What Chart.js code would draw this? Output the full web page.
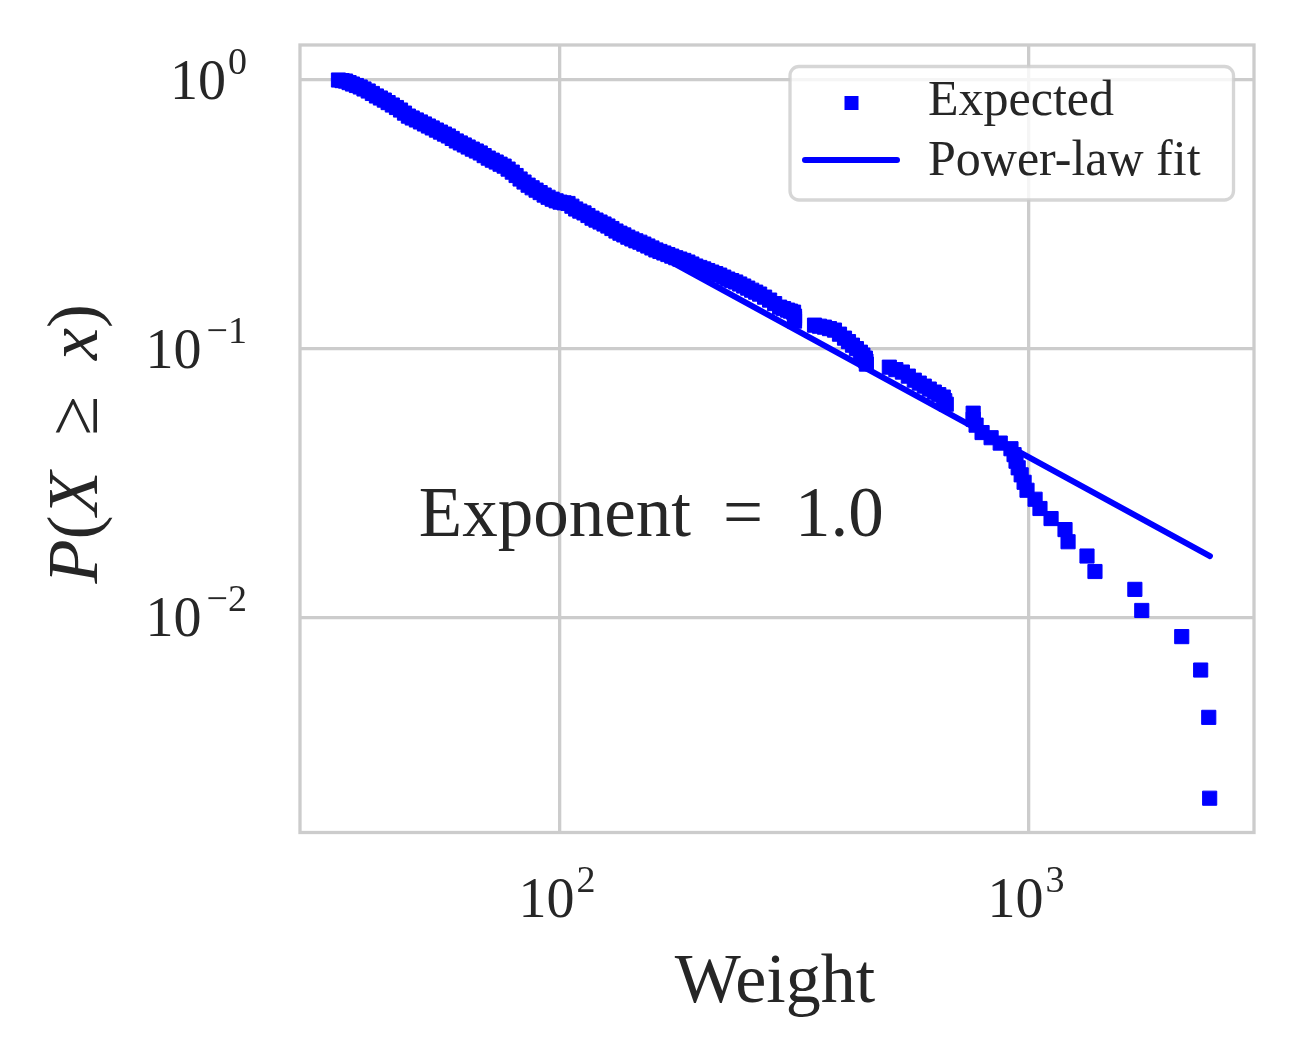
<!DOCTYPE html>
<html>
<head>
<meta charset="utf-8">
<title>Weight CCDF</title>
<script src="https://cdn.jsdelivr.net/npm/chart.js@4.4.1/dist/chart.umd.min.js"></script>
<style>
  html, body { margin: 0; padding: 0; background: #fff; }
  canvas { display: block; }
</style>
</head>
<body>
<canvas id="ccdfChart" width="1299" height="1058"></canvas>
<script>
const weights = [
  33.7, 34.3, 34.9, 35.5, 36.1, 36.8, 37.5, 38.2, 39.0, 39.8,
  40.6, 41.4, 42.2, 43.0, 43.9, 44.8, 45.7, 46.6, 47.5, 48.4,
  49.4, 50.4, 51.4, 52.4, 53.4, 54.5, 55.6, 56.7, 57.8, 58.9,
  60.1, 61.3, 62.5, 63.7, 65.0, 66.3, 67.6, 68.9, 70.3, 71.7,
  73.1, 74.5, 76.0, 77.5, 79.1, 80.6, 82.2, 83.8, 85.5, 87.2,
  88.9, 90.7, 92.5, 94.3, 96.2, 98.1, 100, 102, 104, 106,
  108, 110.2, 112.5, 114.7, 117, 119.3, 121.7, 124.1, 126.5, 129,
  131.6, 134.2, 136.8, 139.5, 142.3, 145.1, 148, 150.9, 153.9, 157,
  160.1, 163.3, 166.5, 169.8, 173.1, 176.5, 180, 183.6, 187.3, 191,
  194.7, 198.6, 202.5, 206.5, 210.6, 214.8, 219, 223.4, 227.8, 232.3,
  236.9, 241.6, 246.4, 251.3, 256.2, 261.3, 266.4, 273, 279.8, 286.8,
  293.9, 299.7, 305.6, 310.1, 314.7, 316.2, 316.2, 316.2,
  348.8, 357.4, 366.3, 375.4, 384.7, 394.3, 404.1, 412.1, 420.2, 428.5,
  436.9, 442.3, 447.7, 449, 449.9,
  503.6, 520, 536.9, 552.8, 569.2, 583.3, 597.8, 612.7, 628, 642, 656.3, 661, 666,
  760, 760, 771, 794, 830, 868, 915, 929, 938, 948,
  962, 976, 990, 1030, 1055, 1114, 1193, 1211, 1329, 1382,
  1681, 1739, 2116, 2322, 2416, 2427
];
const probs = [
  1.000, 0.995, 0.991, 0.978, 0.966, 0.954, 0.942, 0.926, 0.910, 0.891,
  0.872, 0.857, 0.842, 0.824, 0.807, 0.790, 0.773, 0.753, 0.734, 0.722,
  0.710, 0.698, 0.686, 0.674, 0.663, 0.651, 0.640, 0.629, 0.619, 0.606,
  0.593, 0.583, 0.573, 0.563, 0.553, 0.544, 0.535, 0.523, 0.512, 0.503,
  0.495, 0.486, 0.478, 0.466, 0.454, 0.441, 0.428, 0.417, 0.406, 0.397,
  0.389, 0.381, 0.373, 0.366, 0.360, 0.355, 0.351, 0.349, 0.347, 0.339,
  0.331, 0.325, 0.320, 0.313, 0.306, 0.301, 0.296, 0.291, 0.286, 0.280,
  0.274, 0.269, 0.265, 0.260, 0.256, 0.252, 0.249, 0.245, 0.241, 0.237,
  0.233, 0.230, 0.227, 0.224, 0.221, 0.218, 0.2155, 0.213, 0.210, 0.2065,
  0.203, 0.2005, 0.198, 0.1953, 0.1927, 0.1902, 0.1878, 0.1846, 0.1815, 0.1792,
  0.177, 0.174, 0.171, 0.168, 0.165, 0.1623, 0.1596, 0.1555, 0.1516, 0.1471,
  0.1427, 0.1409, 0.1391, 0.1379, 0.1367, 0.1321, 0.1294, 0.1266,
  0.1223, 0.1212, 0.1202, 0.1187, 0.1172, 0.1132, 0.1094, 0.1062, 0.1030, 0.1000,
  0.0970, 0.0946, 0.0922, 0.0899, 0.0876,
  0.0853, 0.0835, 0.0818, 0.0790, 0.0763, 0.0744, 0.0725, 0.0707, 0.0689, 0.0674, 0.0660, 0.0640, 0.0621,
  0.0575, 0.0546, 0.0519, 0.0487, 0.0466, 0.0445, 0.0424, 0.0403, 0.0381, 0.0360,
  0.0339, 0.0318, 0.0297, 0.0275, 0.0254, 0.0233, 0.0212, 0.0191, 0.0169, 0.0148,
  0.0127, 0.0106, 0.00847, 0.00636, 0.00424, 0.00212
];

// Power-law fit, a straight line in log-log between its two ends
const fitWeights = [33.7, 2430];
const fitProbs = [1.0, 0.0169];
const fitExponent = 1.0;

// Annotation anchor (data coords)
const notePos = [50, 0.02];

// Axes
const xRange = [27.9, 3017];
const yRange = [0.00158, 1.35];
const xTicks = [100, 1000];
const xTickLabels = [['10', '2'], ['10', '3']];
const yTicks = [0.01, 0.1, 1];
const yTickLabels = [['10', '\u22122'], ['10', '\u22121'], ['10', '0']];

const serif = '"Liberation Serif", "DejaVu Serif", serif';
const ink = '#262626';
const blue = '#0000ff';

// "10" with a raised exponent
function powerLabel(ctx, base, exp, x, baseline, align) {
  ctx.font = '56px ' + serif;
  const bw = ctx.measureText(base).width;
  ctx.font = '38px ' + serif;
  const ew = ctx.measureText(exp).width;
  const gap = exp.charAt(0) === '\u2212' ? 5 : 2;
  const total = bw + gap + ew;
  let left = x;
  if (align === 'right') left = x - total;
  if (align === 'center') left = x - total / 2;
  ctx.font = '56px ' + serif;
  ctx.fillText(base, left, baseline);
  ctx.font = '38px ' + serif;
  ctx.fillText(exp, left + bw + gap, baseline - 25);
}

// text made of runs with different styles, centred on the origin
function drawRuns(ctx, runs, size) {
  let total = 0;
  runs.forEach(r => {
    ctx.font = (r.italic ? 'italic ' : '') + size + 'px ' + serif;
    r.w = ctx.measureText(r.t).width;
    total += r.w + (r.pad || 0) * size * 2;
  });
  let x = -total / 2;
  runs.forEach(r => {
    ctx.font = (r.italic ? 'italic ' : '') + size + 'px ' + serif;
    x += (r.pad || 0) * size;
    ctx.fillText(r.t, x, 0);
    x += r.w + (r.pad || 0) * size;
  });
  return total;
}

const decorations = {
  id: 'decorations',
  afterDatasetsDraw(chart) {
    const { ctx, chartArea: a } = chart;
    ctx.save();
    ctx.strokeStyle = '#cccccc';
    ctx.lineWidth = 3.3;
    ctx.strokeRect(a.left, a.top, a.right - a.left, a.bottom - a.top);
    ctx.restore();
  },
  afterDraw(chart) {
    const { ctx, chartArea: a, scales } = chart;
    ctx.save();
    ctx.fillStyle = ink;
    ctx.textAlign = 'left';
    ctx.textBaseline = 'alphabetic';

    // tick labels
    yTicks.forEach((v, i) => {
      const y = scales.y.getPixelForValue(v);
      powerLabel(ctx, yTickLabels[i][0], yTickLabels[i][1], a.left - 53, y + 19, 'right');
    });
    xTicks.forEach((v, i) => {
      const x = scales.x.getPixelForValue(v);
      powerLabel(ctx, xTickLabels[i][0], xTickLabels[i][1], x - 3, a.bottom + 84.5, 'center');
    });

    // x title
    ctx.font = '70px ' + serif;
    ctx.textAlign = 'center';
    ctx.fillText('Weight', (a.left + a.right) / 2 - 2, a.bottom + 169);
    ctx.textAlign = 'left';

    // y title, rotated
    ctx.save();
    ctx.translate(97, (a.top + a.bottom) / 2 + 5);
    ctx.rotate(-Math.PI / 2);
    drawRuns(ctx, [
      { t: 'P', italic: true },
      { t: '(' },
      { t: 'X', italic: true },
      { t: '\u2265', pad: 0.5 },
      { t: 'x', italic: true },
      { t: ')' }
    ], 72);
    ctx.restore();

    // exponent annotation, left-aligned at its data anchor
    ctx.save();
    ctx.translate(scales.x.getPixelForValue(notePos[0]), scales.y.getPixelForValue(notePos[1]));
    const note = [{ t: 'Exponent' }, { t: '=', pad: 0.45 }, { t: fitExponent.toFixed(1) }];
    ctx.font = '71px ' + serif;
    let w = 0;
    note.forEach(r => { w += ctx.measureText(r.t).width + (r.pad || 0) * 142; });
    ctx.translate(w / 2, 0);
    drawRuns(ctx, note, 71);
    ctx.restore();

    // legend box, upper right
    const lw = 443.5, lh = 133.5;
    const lx = a.right - 20.5 - lw, ly = a.top + 21.5;
    ctx.beginPath();
    ctx.roundRect(lx, ly, lw, lh, 9);
    ctx.fillStyle = 'rgba(255,255,255,0.8)';
    ctx.fill();
    ctx.strokeStyle = 'rgba(204,204,204,0.8)';
    ctx.lineWidth = 3.3;
    ctx.stroke();

    const sets = chart.data.datasets;
    ctx.fillStyle = blue;
    ctx.fillRect(lx + 61.5 - 7, ly + 36.5 - 7, 14, 14);
    ctx.beginPath();
    ctx.moveTo(lx + 15, ly + 93.5);
    ctx.lineTo(lx + 107, ly + 93.5);
    ctx.strokeStyle = blue;
    ctx.lineWidth = 6;
    ctx.lineCap = 'round';
    ctx.stroke();

    ctx.fillStyle = ink;
    ctx.font = '50px ' + serif;
    ctx.fillText(sets[0].label, lx + 138, ly + 48.5);
    ctx.fillText(sets[1].label, lx + 138, ly + 108.5);
    ctx.restore();
  }
};

const ctx = document.getElementById('ccdfChart').getContext('2d');
new Chart(ctx, {
  type: 'scatter',
  data: {
    datasets: [
      {
        label: 'Expected',
        data: weights.map((w, i) => ({ x: w, y: probs[i] })),
        pointStyle: 'rect',
        pointRadius: 10,
        pointBorderWidth: 1,
        backgroundColor: blue,
        borderColor: blue,
        order: 1
      },
      {
        label: 'Power-law fit',
        data: fitWeights.map((w, i) => ({ x: w, y: fitProbs[i] })),
        showLine: true,
        pointRadius: 0,
        borderColor: blue,
        borderWidth: 6,
        borderCapStyle: 'round',
        fill: false,
        order: 0
      }
    ]
  },
  options: {
    responsive: false,
    animation: false,
    layout: { padding: { top: 45, right: 45, left: 0, bottom: 0 } },
    plugins: {
      legend: { display: false },
      tooltip: { enabled: false }
    },
    scales: {
      x: {
        type: 'logarithmic',
        min: xRange[0],
        max: xRange[1],
        afterBuildTicks: s => { s.ticks = xTicks.map(v => ({ value: v })); },
        afterFit: s => { s.height = 225.5; },
        grid: { color: '#cccccc', lineWidth: 3.3, drawTicks: false },
        border: { display: false },
        ticks: { display: false }
      },
      y: {
        type: 'logarithmic',
        min: yRange[0],
        max: yRange[1],
        afterBuildTicks: s => { s.ticks = yTicks.map(v => ({ value: v })); },
        afterFit: s => { s.width = 300; },
        grid: { color: '#cccccc', lineWidth: 3.3, drawTicks: false },
        border: { display: false },
        ticks: { display: false }
      }
    }
  },
  plugins: [decorations]
});
</script>
</body>
</html>
